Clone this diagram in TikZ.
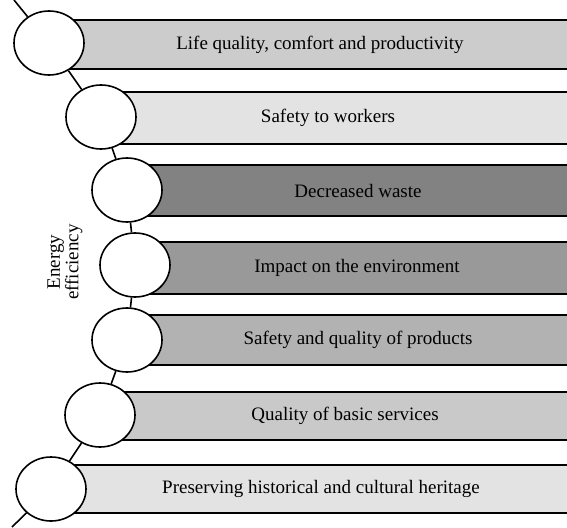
\documentclass[tikz,border=0pt]{standalone}
\usepackage{fontspec}
\setmainfont{Liberation Serif}
\usetikzlibrary{shapes.geometric}
\definecolor{shadeA}{gray}{0.80}
\definecolor{shadeB}{gray}{0.89}
\definecolor{shadeC}{gray}{0.51}
\definecolor{shadeD}{gray}{0.60}
\definecolor{shadeE}{gray}{0.70}
\definecolor{shadeF}{gray}{0.79}
\tikzstyle{disc}=[ellipse, draw, fill=white, line width=1.6pt, minimum width=70pt, minimum height=64pt, inner sep=0pt]
\tikzstyle{rim}=[line width=1.8pt]
\tikzstyle{caption}=[font=\fontsize{19}{22}\selectfont]
\newcommand{\disc}{\node[disc]}
\newcommand{\band}[4]{%
  \fill[#4] (#1,#2) rectangle (567,#3);
  \draw[rim] (#1,#2) -- (567,#2) (#1,#3) -- (567,#3);}

\begin{document}
\begin{tikzpicture}[x=1pt,y=-1pt]
	\useasboundingbox (0,0) rectangle (567,527);
	%% the seven bands, each starting behind its disc
	\band{49}{20}{69}{shadeA}
	\band{101}{92}{144}{shadeB}
	\band{127}{165}{216}{shadeC}
	\band{135}{242}{294}{shadeD}
	\band{127}{315}{365}{shadeE}
	\band{100}{392}{440}{shadeF}
	\band{51}{465}{513}{shadeB}
	\node[caption] (t1) at (320,44.5) {Life quality, comfort and productivity};
	\node[caption] (t2) at (328,118) {Safety to workers};
	\node[caption] (t3) at (358,190.5) {Decreased waste};
	\node[caption] (t4) at (357,268) {Impact on the environment};
	\node[caption] (t5) at (358,340) {Safety and quality of products};
	\node[caption] (t6) at (345,416) {Quality of basic services};
	\node[caption] (t7) at (321,489) {Preserving historical and cultural heritage};
	%% the chain of discs
	\coordinate (top) at (14,0);
	\coordinate (bot) at (12,527);
	\disc (c1) at (49,43) {};
	\disc (c2) at (101,117) {};
	\disc (c3) at (127,190) {};
	\disc (c4) at (135,265) {};
	\disc (c5) at (127,340) {};
	\disc (c6) at (100,415) {};
	\disc (c7) at (51,489) {};
	\draw[line width=1.6pt] (top) -- (c1) -- (c2) -- (c3) -- (c4) -- (c5) -- (c6) -- (c7) -- (bot);
	\node[font=\fontsize{19}{17}\selectfont, rotate=90, align=center] (ee) at (65,262) {Energy\\efficiency};
\end{tikzpicture}
\end{document}
